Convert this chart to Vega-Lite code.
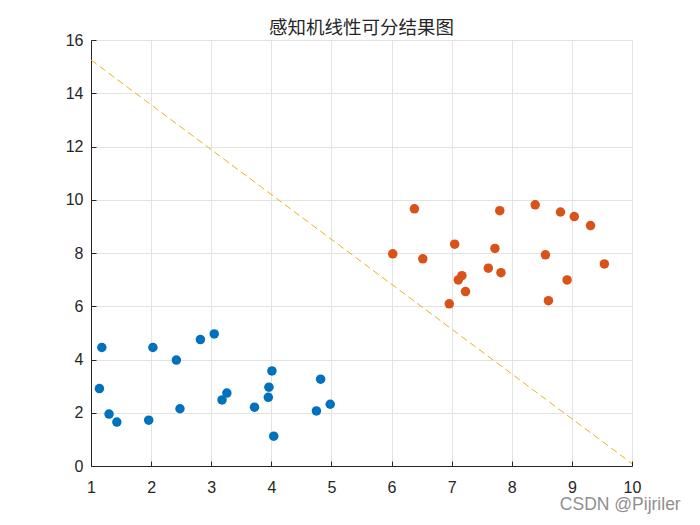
{
  "$schema": "https://vega.github.io/schema/vega-lite/v6.json",
  "width": 541,
  "height": 426,
  "autosize": "none",
  "padding": {"left": 91, "top": 40, "right": 68, "bottom": 59},
  "background": "white",
  "title": {"text": "感知机线性可分结果图", "font": "Noto Sans CJK SC", "fontSize": 18.5, "fontWeight": "normal", "color": "#262626", "offset": -5},
  "config": {
    "view": {"stroke": null},
    "axis": {
      "domainColor": "#262626", "tickColor": "#262626", "labelColor": "#262626",
      "labelFont": "Liberation Sans", "labelFontSize": 16, "gridColor": "#e3e3e3", "gridWidth": 1,
      "tickSize": -5, "titleFontSize": 0, "labelFlush": false
    }
  },
  "datasets": {
    "pts": [
      {"x": 1.18, "y": 4.45, "g": "A"}, {"x": 2.03, "y": 4.45, "g": "A"}, {"x": 2.42, "y": 3.98, "g": "A"},
      {"x": 2.82, "y": 4.75, "g": "A"}, {"x": 3.05, "y": 4.96, "g": "A"}, {"x": 1.14, "y": 2.91, "g": "A"},
      {"x": 1.30, "y": 1.95, "g": "A"}, {"x": 1.43, "y": 1.65, "g": "A"}, {"x": 1.96, "y": 1.72, "g": "A"},
      {"x": 2.48, "y": 2.15, "g": "A"}, {"x": 3.18, "y": 2.48, "g": "A"}, {"x": 3.26, "y": 2.74, "g": "A"},
      {"x": 3.72, "y": 2.21, "g": "A"}, {"x": 3.95, "y": 2.58, "g": "A"}, {"x": 3.96, "y": 2.96, "g": "A"},
      {"x": 4.01, "y": 3.57, "g": "A"}, {"x": 4.04, "y": 1.12, "g": "A"}, {"x": 4.75, "y": 2.07, "g": "A"},
      {"x": 4.82, "y": 3.26, "g": "A"}, {"x": 4.98, "y": 2.32, "g": "A"},
      {"x": 6.38, "y": 9.66, "g": "B"}, {"x": 7.80, "y": 9.59, "g": "B"}, {"x": 8.39, "y": 9.81, "g": "B"},
      {"x": 8.81, "y": 9.54, "g": "B"}, {"x": 9.04, "y": 9.37, "g": "B"}, {"x": 9.31, "y": 9.03, "g": "B"},
      {"x": 6.02, "y": 7.97, "g": "B"}, {"x": 6.52, "y": 7.78, "g": "B"}, {"x": 7.05, "y": 8.33, "g": "B"},
      {"x": 7.72, "y": 8.17, "g": "B"}, {"x": 8.56, "y": 7.93, "g": "B"}, {"x": 9.54, "y": 7.59, "g": "B"},
      {"x": 7.17, "y": 7.15, "g": "B"}, {"x": 7.11, "y": 6.99, "g": "B"}, {"x": 7.61, "y": 7.43, "g": "B"},
      {"x": 7.82, "y": 7.26, "g": "B"}, {"x": 7.23, "y": 6.55, "g": "B"}, {"x": 6.96, "y": 6.09, "g": "B"},
      {"x": 8.92, "y": 6.99, "g": "B"}, {"x": 8.61, "y": 6.21, "g": "B"}
    ],
    "line": [{"x": 1, "y": 15.25}, {"x": 10, "y": 0.09}],
    "mark": [{"x": 8.8, "y": -1.46, "t": "CSDN @Pijriler"}]
  },
  "layer": [
    {
      "data": {"name": "line"},
      "mark": {"type": "line", "color": "#EDB120", "strokeWidth": 1, "strokeDash": [7, 4]},
      "encoding": {
        "x": {"field": "x", "type": "quantitative", "scale": {"domain": [1, 10], "nice": false}, "axis": {"values": [1,2,3,4,5,6,7,8,9,10], "format": "d", "title": null, "labelPadding": 18}},
        "y": {"field": "y", "type": "quantitative", "scale": {"domain": [0, 16], "nice": false}, "axis": {"values": [0,2,4,6,8,10,12,14,16], "format": "d", "title": null, "labelPadding": 13}}
      }
    },
    {
      "data": {"name": "pts"},
      "mark": {"type": "point", "filled": true, "opacity": 1, "size": 90},
      "encoding": {
        "x": {"field": "x", "type": "quantitative"},
        "y": {"field": "y", "type": "quantitative"},
        "color": {"field": "g", "type": "nominal", "scale": {"domain": ["A", "B"], "range": ["#0072BD", "#D95319"]}, "legend": null}
      }
    },
    {
      "data": {"name": "mark"},
      "mark": {"type": "text", "align": "left", "baseline": "middle", "font": "Liberation Sans", "fontSize": 17.5, "color": "#8f8f8f", "clip": false},
      "encoding": {
        "x": {"field": "x", "type": "quantitative"},
        "y": {"field": "y", "type": "quantitative"},
        "text": {"field": "t"}
      }
    }
  ]
}
